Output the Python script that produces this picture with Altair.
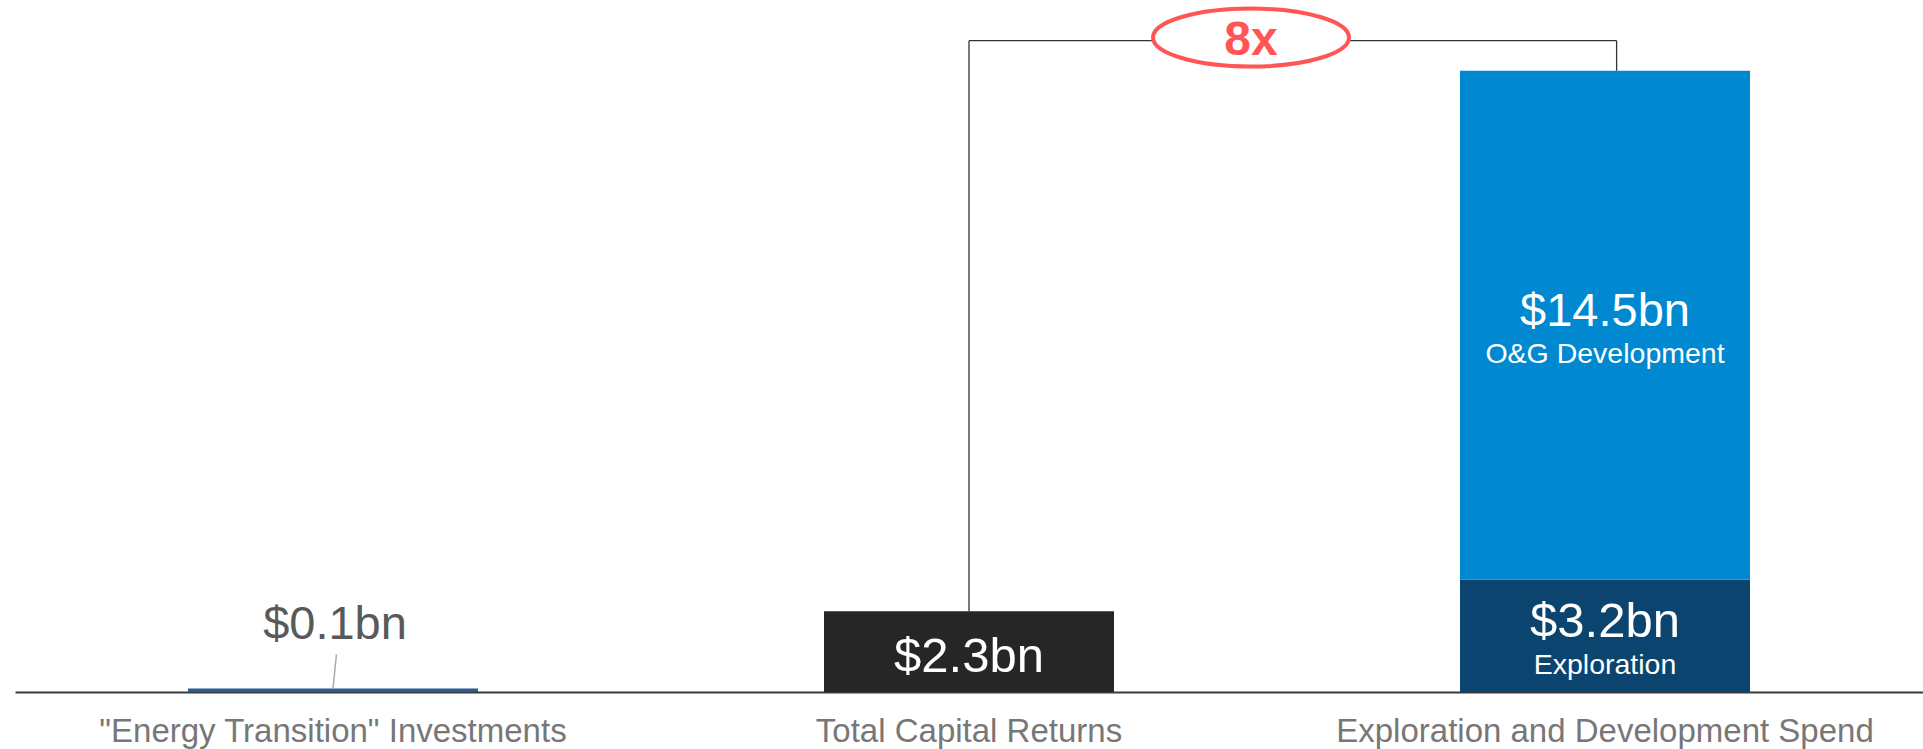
import altair as alt
import pandas as pd

# Categories along the x axis
categories = [
    '"Energy Transition" Investments',
    "Total Capital Returns",
    "Exploration and Development Spend",
]

# Bar segments (stacked within each category, bottom to top)
seg_category = [categories[0], categories[1], categories[2], categories[2]]
seg_name = ["Energy Transition", "Capital Returns", "Exploration", "O&G Development"]
seg_value = [0.1, 2.3, 3.2, 14.5]
seg_label = ["$0.1bn", "$2.3bn", "$3.2bn", "$14.5bn"]
seg_sublabel = ["", "", "Exploration", "O&G Development"]
seg_colors = ["#2B5D8D", "#262626", "#0B446F", "#0088D1"]

multiple_label = "8x"

FONT = "Liberation Sans"
ACCENT = "#FF5555"

df = pd.DataFrame({
    "category": seg_category,
    "segment": seg_name,
    "value": seg_value,
    "label": seg_label,
    "sublabel": seg_sublabel,
})
df["end"] = df.groupby("category")["value"].cumsum()
df["start"] = df["end"] - df["value"]
df["mid"] = (df["start"] + df["end"]) / 2

totals = df.groupby("category")["end"].max()
y_max = totals.max() * 1.114
bracket_level = totals.max() * 1.0485

x_scale = alt.Scale(domain=categories, paddingInner=0.544, paddingOuter=0.272)
y_scale = alt.Scale(domain=[0, y_max], nice=False, zero=True)

x_axis = alt.Axis(
    title=None, ticks=False, grid=False, labelAngle=0,
    domainColor="#3a3a3a", domainWidth=2,
    labelFont=FONT, labelFontSize=33, labelColor="#777777",
    labelPadding=49, labelBaseline="alphabetic", labelLimit=0, labelOverlap=False,
)


def X(field="category:N", band=0.5):
    return alt.X(field, scale=x_scale, sort=categories, axis=x_axis, bandPosition=band)


def Y(field):
    return alt.Y(field, scale=y_scale, axis=None)


base = alt.Chart(df)

bars = base.mark_bar().encode(
    x=X(),
    y=Y("start:Q"),
    y2="end:Q",
    color=alt.Color("segment:N", scale=alt.Scale(domain=seg_name, range=seg_colors), legend=None),
)

# value labels inside the stacked segments
explo_big = base.transform_filter(alt.datum.segment == "Exploration").mark_text(
    font=FONT, fontSize=49, color="white", baseline="alphabetic", dy=1
).encode(x=X(), y=Y("mid:Q"), text="label:N")

dev_big = base.transform_filter(alt.datum.segment == "O&G Development").mark_text(
    font=FONT, fontSize=47, color="white", baseline="alphabetic", dy=1
).encode(x=X(), y=Y("mid:Q"), text="label:N")

stack_small = base.transform_filter("datum.sublabel != ''").mark_text(
    font=FONT, fontSize=28.5, color="white", baseline="alphabetic", dy=38
).encode(x=X(), y=Y("mid:Q"), text="sublabel:N")

returns_label = base.transform_filter(
    alt.datum.segment == "Capital Returns"
).mark_text(
    font=FONT, fontSize=49, color="white", baseline="alphabetic", dy=20
).encode(x=X(), y=Y("mid:Q"), text="label:N")

# small bar: label above with a leader line
small = df[df["segment"] == "Energy Transition"].copy()
small["leader_top"] = small["end"] + 0.97

small_label = alt.Chart(small).mark_text(
    font=FONT, fontSize=47, color="#595959", baseline="alphabetic", dy=-49, dx=2
).encode(x=X(), y=Y("end:Q"), text="label:N")

leader = alt.Chart(small).mark_rule(color="#AAAAAA", strokeWidth=1.5).encode(
    x=X(band=0.5),
    x2=alt.X2("category:N", bandPosition=0.512),
    y=Y("end:Q"),
    y2="leader_top:Q",
)

# bracket comparing capital returns with E&D spend
left_cat, right_cat = categories[1], categories[2]
bracket_v = pd.DataFrame({
    "category": [left_cat, right_cat],
    "top": [totals[left_cat], totals[right_cat]],
    "level": [bracket_level, bracket_level],
})
bracket_left = alt.Chart(bracket_v.iloc[[0]]).mark_rule(color="#333333", strokeWidth=1.3).encode(
    x=X(band=0.5), y=Y("top:Q"), y2="level:Q"
)
bracket_right = alt.Chart(bracket_v.iloc[[1]]).mark_rule(color="#333333", strokeWidth=1.3).encode(
    x=X(band=0.54), y=Y("top:Q"), y2="level:Q"
)
bracket_h_df = pd.DataFrame({"from": [left_cat], "to": [right_cat], "level": [bracket_level]})
bracket_h = alt.Chart(bracket_h_df).mark_rule(color="#333333", strokeWidth=1.3).encode(
    x=X("from:N", band=0.5),
    x2=alt.X2("to:N", bandPosition=0.54),
    y=Y("level:Q"),
)

# "8x" badge sits on the bracket, to the right of the capital returns bar
badge_df = pd.DataFrame({
    "category": [left_cat],
    "level": [bracket_level + 0.09],
    "text": [multiple_label],
})
ellipse_path = "M-1,0A1,0.296,0,1,1,1,0A1,0.296,0,1,1,-1,0Z"
badge = alt.Chart(badge_df).mark_point(
    shape=ellipse_path, size=196 * 196, filled=True, fill="white", fillOpacity=1,
    stroke=ACCENT, strokeWidth=4, strokeOpacity=1, xOffset=137,
).encode(x=X(band=1.0), y=Y("level:Q"))
badge_text = alt.Chart(badge_df).mark_text(
    font=FONT, fontSize=48, fontWeight="bold", color=ACCENT, baseline="alphabetic",
    dy=17, dx=137,
).encode(x=X(band=1.0), y=Y("level:Q"), text="text:N")

chart = alt.layer(
    bracket_left, bracket_right, bracket_h,
    bars, explo_big, dev_big, stack_small, returns_label,
    leader, small_label,
    badge, badge_text,
).properties(
    width=1908,
    height=692,
    padding={"left": 15, "top": 0, "right": 0, "bottom": 57},
    autosize=alt.AutoSizeParams(type="none"),
    background="white",
).configure_view(stroke=None)

chart.save("out.html", embed_options={"renderer": "svg", "actions": False})
